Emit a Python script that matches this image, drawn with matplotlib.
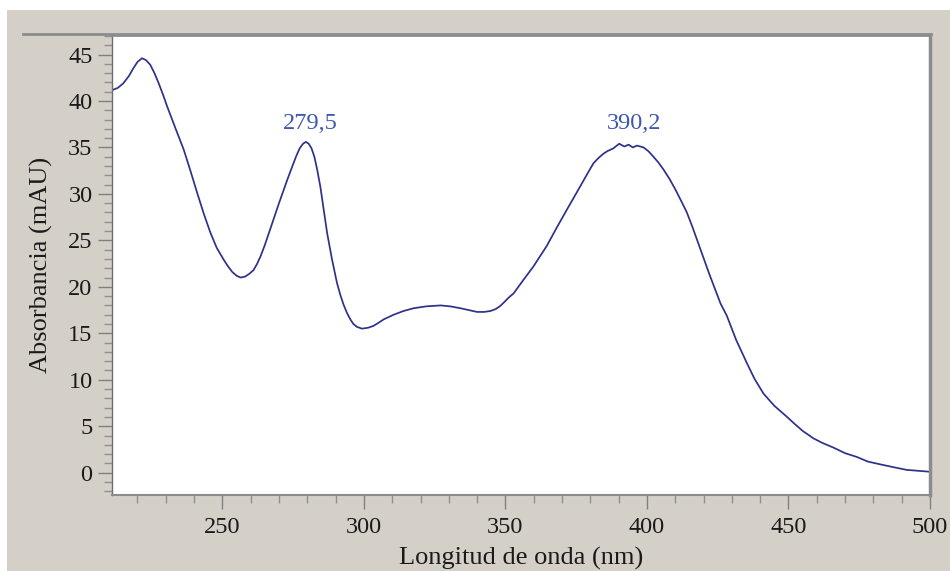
import matplotlib.pyplot as plt
from matplotlib.ticker import MultipleLocator
from matplotlib.patches import Rectangle
from matplotlib.lines import Line2D

# UV-Vis spectrum (wavelength in nm, absorbance in mAU)
wavelength = [211.3, 213.0, 215.0, 217.0, 218.5, 220.0, 221.6, 223.0, 224.5, 226.0,
              227.5, 229.0, 230.5, 233.5, 236.3, 238.7, 241.1, 243.5, 245.8, 248.0,
              250.5, 252.0, 253.5, 255.0, 256.4, 258.0, 259.5, 261.0, 262.3, 263.5,
              265.0, 267.0, 270.0, 272.9, 274.5, 276.0, 277.3, 278.5, 279.5, 280.5,
              281.5, 282.5, 283.5, 284.6, 285.8, 287.0, 288.7, 290.5, 291.7, 292.8,
              294.0, 295.2, 296.3, 297.5, 299.3, 301.5, 303.4, 305.0, 307.0, 310.5,
              314.0, 317.6, 322.0, 327.1, 330.5, 334.1, 337.0, 340.0, 342.5, 344.7,
              346.5, 348.0, 349.4, 351.0, 352.9, 356.0, 359.9, 364.6, 368.0, 371.7,
              376.4, 379.0, 381.1, 383.0, 384.5, 386.0, 388.1, 390.2, 392.0, 393.5,
              395.0, 396.5, 398.8, 400.5, 402.0, 404.0, 405.9, 408.0, 410.0, 412.0,
              414.1, 416.0, 418.0, 420.0, 422.0, 424.0, 426.0, 428.2, 431.5, 435.3,
              438.0, 441.2, 445.0, 449.5, 452.0, 455.0, 458.8, 462.0, 465.9, 470.0,
              474.1, 478.0, 482.4, 487.0, 491.8, 496.0, 500.0]
absorbance = [41.2, 41.4, 41.9, 42.7, 43.5, 44.2, 44.6, 44.4, 43.9, 43.0,
              41.9, 40.7, 39.4, 37.0, 34.8, 32.5, 30.1, 27.8, 25.8, 24.2,
              22.9, 22.2, 21.6, 21.2, 21.0, 21.1, 21.4, 21.8, 22.5, 23.3,
              24.5, 26.3, 29.0, 31.5, 32.8, 34.0, 34.9, 35.4, 35.6, 35.4,
              34.9, 34.0, 32.6, 30.8, 28.3, 25.8, 23.0, 20.4, 19.1, 18.1,
              17.2, 16.5, 16.0, 15.7, 15.5, 15.6, 15.8, 16.1, 16.5, 17.0,
              17.4, 17.7, 17.9, 18.0, 17.9, 17.7, 17.5, 17.3, 17.3, 17.4,
              17.6, 17.9, 18.3, 18.8, 19.3, 20.6, 22.2, 24.4, 26.3, 28.3,
              30.8, 32.2, 33.3, 33.9, 34.3, 34.6, 34.9, 35.4, 35.1, 35.3,
              35.0, 35.2, 35.0, 34.6, 34.1, 33.4, 32.6, 31.6, 30.5, 29.3,
              28.0, 26.5, 24.8, 23.1, 21.4, 19.8, 18.2, 16.9, 14.3, 11.8,
              10.1, 8.5, 7.2, 6.0, 5.3, 4.5, 3.7, 3.2, 2.7, 2.1,
              1.7, 1.2, 0.9, 0.6, 0.3, 0.2, 0.1]

peak_labels = ['279,5', '390,2']
peak_label_x = [281.1, 395.5]
peak_label_y = [37.6, 37.6]

W, H = 950, 571
fig = plt.figure(figsize=(W / 100, H / 100), dpi=100, facecolor='white')

# grey window background with thin white margin on top and left
fig.patches.append(Rectangle((7 / W, 0), 1, (H - 10) / H, transform=fig.transFigure,
                             facecolor='#d4d0c8', edgecolor='none', zorder=-10))

ax = fig.add_axes([112 / W, 76 / H, 818 / W, 460 / H])
ax.set_facecolor('white')

ax.plot(wavelength, absorbance, color='#2e3189', lw=1.25, solid_joinstyle='round')

serif = 'Liberation Serif'
for txt, x, y in zip(peak_labels, peak_label_x, peak_label_y):
    ax.text(x, y, txt, color='#3f57b0', fontsize=17.5, family=serif,
            ha='center', va='center')

ax.set_xlim(211, 500)
ax.set_ylim(-2.4, 47.1)
ax.xaxis.set_major_locator(MultipleLocator(50))
ax.xaxis.set_minor_locator(MultipleLocator(10))
ax.yaxis.set_major_locator(MultipleLocator(5))
ax.yaxis.set_minor_locator(MultipleLocator(1))

ax.tick_params(which='major', length=10, width=1, color='#808080',
               labelsize=17.5, labelcolor='#1a1a1a', direction='out')
ax.tick_params(which='minor', length=6, width=1, color='#909090', direction='out')
ax.tick_params(axis='y', which='major', pad=4)
ax.tick_params(axis='x', which='major', pad=6)
for lab in ax.get_xticklabels() + ax.get_yticklabels():
    lab.set_family(serif)

ax.set_xlabel('Longitud de onda (nm)', fontsize=19, family=serif, color='#1a1a1a', labelpad=6)
ax.set_ylabel('Absorbancia (mAU)', fontsize=19, family=serif, color='#1a1a1a', labelpad=11)

ax.spines['left'].set_color('#6e6e6e')
ax.spines['left'].set_linewidth(1.0)
ax.spines['bottom'].set_color('#8c8c8c')
ax.spines['bottom'].set_linewidth(1.5)
ax.spines['right'].set_color('#8c8c8c')
ax.spines['right'].set_linewidth(2.5)
ax.spines['top'].set_color('#8c8c8c')
ax.spines['top'].set_linewidth(2.0)

# frame line along the top that runs past the plot area
fig.lines.append(Line2D([23 / W, 931 / W], [1 - 34 / H, 1 - 34 / H],
                        transform=fig.transFigure, color='#8c8c8c', lw=2.0))

fig.savefig('out.png', dpi=100, facecolor=fig.get_facecolor())
